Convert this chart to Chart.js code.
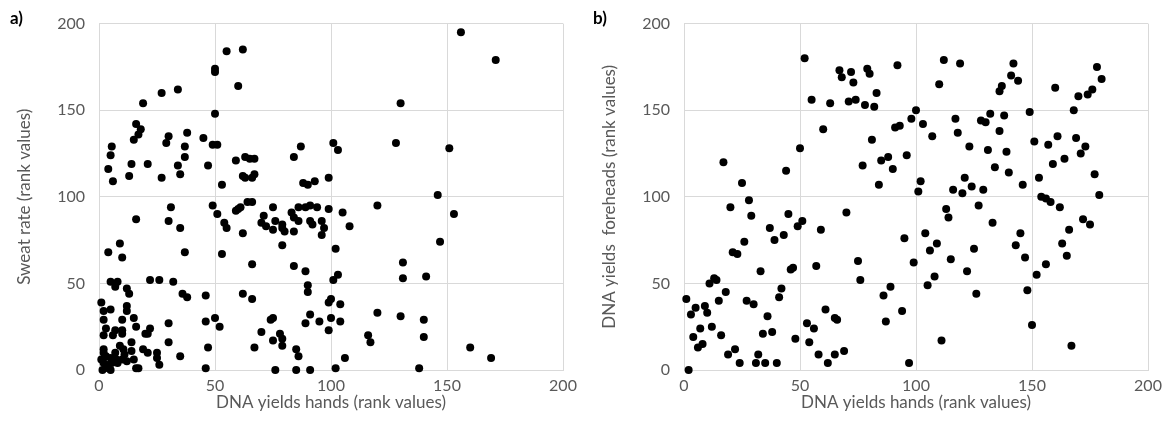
<!DOCTYPE html>
<html>
<head>
<meta charset="utf-8">
<script src="https://cdn.jsdelivr.net/npm/chart.js@4.4.1/dist/chart.umd.min.js"></script>
<style>
  body { margin: 0; background: #fff; width: 1169px; height: 439px; position: relative; overflow: hidden; }
  .panel { position: absolute; top: 0; width: 584px; height: 439px; }
  .tag { position: absolute; top: 7px; font: bold 17px Lato, sans-serif; color: #000; }
</style>
</head>
<body>
<div class="panel" style="left:0"><canvas id="chartA" width="584" height="439"></canvas></div>
<div class="panel" style="left:585px"><canvas id="chartB" width="584" height="439"></canvas></div>
<div class="tag" style="left:10px">a)</div>
<div class="tag" style="left:593px">b)</div>
<script>
// panel a: DNA yields hands vs sweat rate (rank values)
var handsA = [55,62,50,50,60,34,27,19,50,16,18,17,15,38,30,29,45,37,37,49,51,5.5,5,4,6,14,13,21,27,34,35,47,53,59,63,62,63,65,67,66,67,
  130,101,103,87,84,128,88,90,93,99,156,171,151,146,
  31,30,35,16,49,51,54,55,59,60,61,62,64,9,10,4,37,53,22,26,32,5,8,7,12,13,36,38,46,62,
  1,2,5,12,12,2,10,15,16,3,7,10,2,6,10,22,20,21,30,46,50,52,30,47,14,9,7,2,2,3,10.5,14,19,21,25,25,35,26,16,17,46,
  1,2,1.5,4,3,5.5,7.5,10,12,15,5,11,8,5,
  66,75,83,86,89,91,94,99,105,120,71,70,72,75,76,79,79,80,84,86,84,91,92,96,97,96,108,79,102,66,84,89,103,101,131,131,
  90,90,66,100,99,104,74,75,91,89,95,100,104,120,130,70,78,79,75,79,99,116,117,67,85,86,106,76,85,91,102,
  153,147,141,140,140,160,169,138];
var sweat = [184,185,174,172,164,162,160,154,148,142,139,136,133,137,135,131,134,129,123,130,130,129,124,116,109,119,112,119,111,118,113,118,107,121,123,112,111,122,122,111,113,
  154,131,127,129,123,131,108,107,109,111,195,179,128,101,
  94,86,82,87,95,90,85,82,92,93,94,79,97,73,65,68,68,67,52,52,51,51,51,48,47,44,44,42,43,44,
  39,34,35,37,34,29,29,30,25,24,23,23,20,20,21,24,21,21,27,28,30,25,16,13,16,14,10,12,10,8,12,11,12,10,10,7,8,3,1,1,1,
  6,4,0,1,3,4,6,6,5,6,7,9,4,0,
  97,94,91,94,94,95,94,93,91,95,89,85,83,81,86,84,82,80,88,86,80,86,84,86,82,78,83,72,70,61,60,57,55,52,62,53,
  49,45,41,41,39,38,29,30,32,27,28,30,28,33,31,22,21,18,17,14,23,20,16,13,12,8,7,0,0,0,1,
  90,74,54,29,19,13,7,1];

// panel b: DNA yields hands vs DNA yields foreheads (rank values)
var handsB = [52,55,63,60,50,17,44,25,28,67,68,72,73,79,80,92,83,71,74,78,82,112,119,110,100,98,103,91,93,107,117,128,130,132,118,123,131,
  81,96,85,88,90,77,84,102,101,121,124,129,116,120,
  142,141,144,137,136,160,178,180,170,174,176,168,149,138,136,139,151,157,161,169,173,171,164,159,134,140,146,153,177,179,154,156,158,162,
  20,29,45,49,51,59,37,39,43,26,21,23,33,46,47,57,11,13,14,18,15,42,41,1,5,3,9,10,27,30,36,7,12,4,16,34,38,8,6,22,19,32,24,31,35,40,2,
  48,53,56,54,61,65,66,58,62,65,69,97,
  70,95,75,76,89,86,94,87,99,104,109,106,113,114,127,125,115,122,108,105,126,111,
  133,145,143,147,172,175,166,163,165,156,152,148,150,167];
var foreheads = [180,156,154,139,128,120,115,108,98,173,169,172,166,174,171,176,160,155,156,153,152,179,177,165,150,145,142,140,141,135,145,144,143,148,137,129,127,
  133,124,121,123,116,118,107,109,103,111,106,104,104,102,
  177,170,167,164,161,163,175,168,158,159,162,150,149,147,138,126,132,130,135,134,129,125,122,119,117,114,107,111,113,101,100,99,97,94,
  94,89,90,83,86,81,82,75,78,74,68,67,57,58,59,60,50,53,52,45,40,47,42,41,36,32,37,33,40,38,31,24,25,19,20,21,22,15,13,12,9,9,4,4,4,4,0,
  18,27,24,16,35,30,29,9,4,9,11,4,
  91,76,63,52,48,43,34,28,62,79,73,69,93,88,95,70,64,57,54,49,44,17,
  85,79,72,65,87,84,81,73,66,61,55,46,26,14];

var tickSteps = [0, 50, 100, 150, 200];

function toPoints(xs, ys) {
  return xs.map(function (x, i) { return { x: x, y: ys[i] }; });
}

function makeOptions(xTitle, yTitle) {
  var tickFont = { family: 'Lato', size: 16 };
  var titleFont = { family: 'Lato', size: 17 };
  return {
    responsive: false,
    animation: false,
    layout: { padding: { top: 21, right: 21, left: 0, bottom: 0 } },
    plugins: { legend: { display: false }, tooltip: { enabled: false } },
    scales: {
      x: {
        type: 'linear', min: 0, max: 200,
        afterBuildTicks: function (s) { s.ticks = tickSteps.map(function (v) { return { value: v }; }); },
        afterFit: function (s) { s.height = 69; },
        grid: { color: '#d9d9d9', drawTicks: false },
        border: { color: '#d9d9d9' },
        ticks: { color: '#595959', font: tickFont, padding: 6, maxRotation: 0 },
        title: { display: true, text: xTitle, color: '#595959', font: titleFont, padding: { top: 0, bottom: 26 } }
      },
      y: {
        type: 'linear', min: 0, max: 200,
        afterBuildTicks: function (s) { s.ticks = tickSteps.map(function (v) { return { value: v }; }); },
        afterFit: function (s) { s.width = 99; },
        grid: { color: '#d9d9d9', drawTicks: false },
        border: { color: '#d9d9d9' },
        ticks: { color: '#595959', font: tickFont, padding: 14 },
        title: { display: true, text: yTitle, color: '#595959', font: titleFont, padding: { top: 14, bottom: 0 } }
      }
    }
  };
}

function makeDataset(xs, ys) {
  return {
    data: toPoints(xs, ys),
    backgroundColor: '#000',
    borderWidth: 0,
    pointRadius: 4,
    clip: false
  };
}

new Chart(document.getElementById('chartA').getContext('2d'), {
  type: 'scatter',
  data: { datasets: [makeDataset(handsA, sweat)] },
  options: makeOptions('DNA yields hands (rank values)', 'Sweat rate (rank values)')
});

new Chart(document.getElementById('chartB').getContext('2d'), {
  type: 'scatter',
  data: { datasets: [makeDataset(handsB, foreheads)] },
  options: makeOptions('DNA yields hands (rank values)', 'DNA yields  foreheads (rank values)')
});
</script>
</body>
</html>
